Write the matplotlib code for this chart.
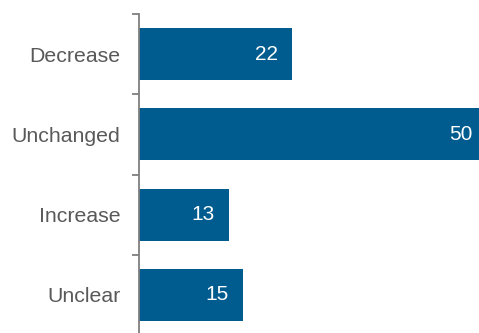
import matplotlib
matplotlib.use("Agg")
import matplotlib.pyplot as plt
import numpy as np

categories = ["Decrease", "Unchanged", "Increase", "Unclear"]
values = [22, 50, 13, 15]

bar_color = "#005b8e"
text_gray = "#595959"
axis_gray = "#7f7f7f"

fig = plt.figure(figsize=(4.79, 3.33), dpi=100)
ax = fig.add_axes([139 / 479, -2 / 333, 348 / 479, 321 / 333])

y = np.arange(len(categories))
ax.barh(y, values, height=0.65, color=bar_color)

ax.set_xlim(0, 50)
ax.set_ylim(len(categories) - 0.5, -0.5)

for yi, v in zip(y, values):
    ax.text(v - 2.1, yi, str(v), ha="right", va="center", color="white",
            fontsize=15, family="Liberation Sans")

# category names at band centres, tick marks at band boundaries
ax.set_yticks(y)
ax.set_yticklabels(categories, fontsize=15.3, color=text_gray, family="Liberation Sans")
ax.tick_params(axis="y", which="major", length=0, pad=13.5)
ax.set_yticks(np.arange(-0.5, len(categories) + 0.5, 1), minor=True)
ax.tick_params(axis="y", which="minor", length=5, width=1.3, color=axis_gray)

ax.xaxis.set_visible(False)
for side in ("top", "right", "bottom"):
    ax.spines[side].set_visible(False)
ax.spines["left"].set_color(axis_gray)
ax.spines["left"].set_linewidth(1.3)

fig.savefig("out.png", dpi=100)
